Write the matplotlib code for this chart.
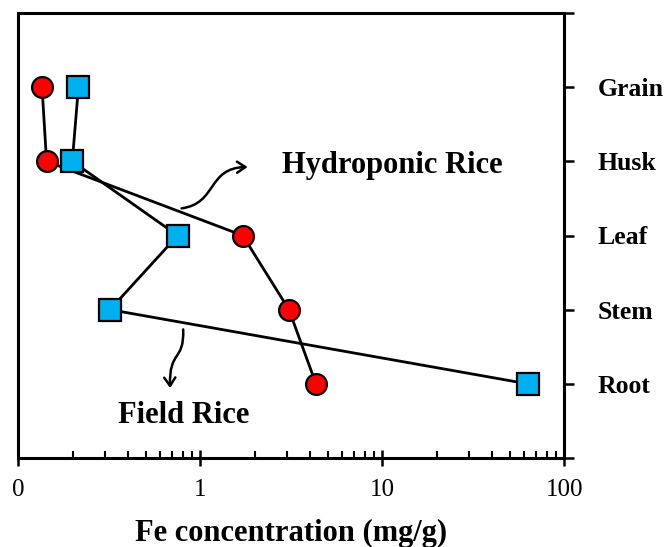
import matplotlib
matplotlib.use('Agg')
import matplotlib.pyplot as plt
from matplotlib.path import Path
from matplotlib.patches import FancyArrowPatch

plt.rcParams['font.family'] = ['Liberation Serif', 'DejaVu Serif']

tissues = ['Root', 'Stem', 'Leaf', 'Husk', 'Grain']
ypos = [1, 2, 3, 4, 5]
hydroponic_fe = [4.32, 3.07, 1.71, 0.143, 0.135]
field_fe = [62.9, 0.319, 0.751, 0.198, 0.214]

fig = plt.figure(figsize=(6.67, 5.47), dpi=100)
ax = fig.add_axes([18.3/667, 1 - 458/547, 546/667, 445/547])

ax.plot(hydroponic_fe, ypos, '-o', color='black', lw=2.0, markersize=15,
        markerfacecolor='#ff0000', markeredgecolor='black', markeredgewidth=1.6, zorder=3)
ax.plot(field_fe, ypos, '-s', color='black', lw=2.0, markersize=15.5,
        markerfacecolor='#00b0f0', markeredgecolor='black', markeredgewidth=1.6, zorder=3)

ax.set_xscale('log')
ax.set_xlim(0.1, 100)
ax.set_ylim(0, 6)

ax.set_xticks([0.1, 1, 10, 100])
ax.set_xticklabels(['0', '1', '10', '100'], fontsize=18)
ax.tick_params(axis='x', which='major', direction='inout', length=12, width=1.8, pad=9)
ax.tick_params(axis='x', which='minor', direction='in', length=5, width=1.5)

ax.yaxis.tick_right()
ax.set_yticks(range(0, 7))
ax.set_yticklabels([''] + tissues + [''], fontsize=18.5, fontweight='bold')
ax.tick_params(axis='y', which='both', direction='out', length=7, width=1.8, pad=17)
ax.tick_params(axis='y', which='minor', right=False, left=False)

for s in ax.spines.values():
    s.set_linewidth(2.2)

ax.set_xlabel('Fe concentration (mg/g)', fontsize=22, fontweight='bold', labelpad=13)

ax.text(0.685, 0.640, 'Hydroponic Rice', transform=ax.transAxes, fontsize=22,
        fontweight='bold', ha='center', va='baseline')
ax.text(0.302, 0.078, 'Field Rice', transform=ax.transAxes, fontsize=22,
        fontweight='bold', ha='center', va='baseline')

# curly arrows
p1 = Path([(0.299, 0.561), (0.365, 0.572), (0.345, 0.652), (0.420, 0.654)],
          [Path.MOVETO, Path.CURVE4, Path.CURVE4, Path.CURVE4])
ax.add_patch(FancyArrowPatch(path=p1, arrowstyle='->,head_length=6,head_width=4',
                             lw=1.8, color='black', transform=ax.transAxes))
p2 = Path([(0.302, 0.289), (0.304, 0.215), (0.276, 0.245), (0.278, 0.157)],
          [Path.MOVETO, Path.CURVE4, Path.CURVE4, Path.CURVE4])
ax.add_patch(FancyArrowPatch(path=p2, arrowstyle='->,head_length=6,head_width=4',
                             lw=1.8, color='black', transform=ax.transAxes))

fig.savefig('out.png', dpi=100)
